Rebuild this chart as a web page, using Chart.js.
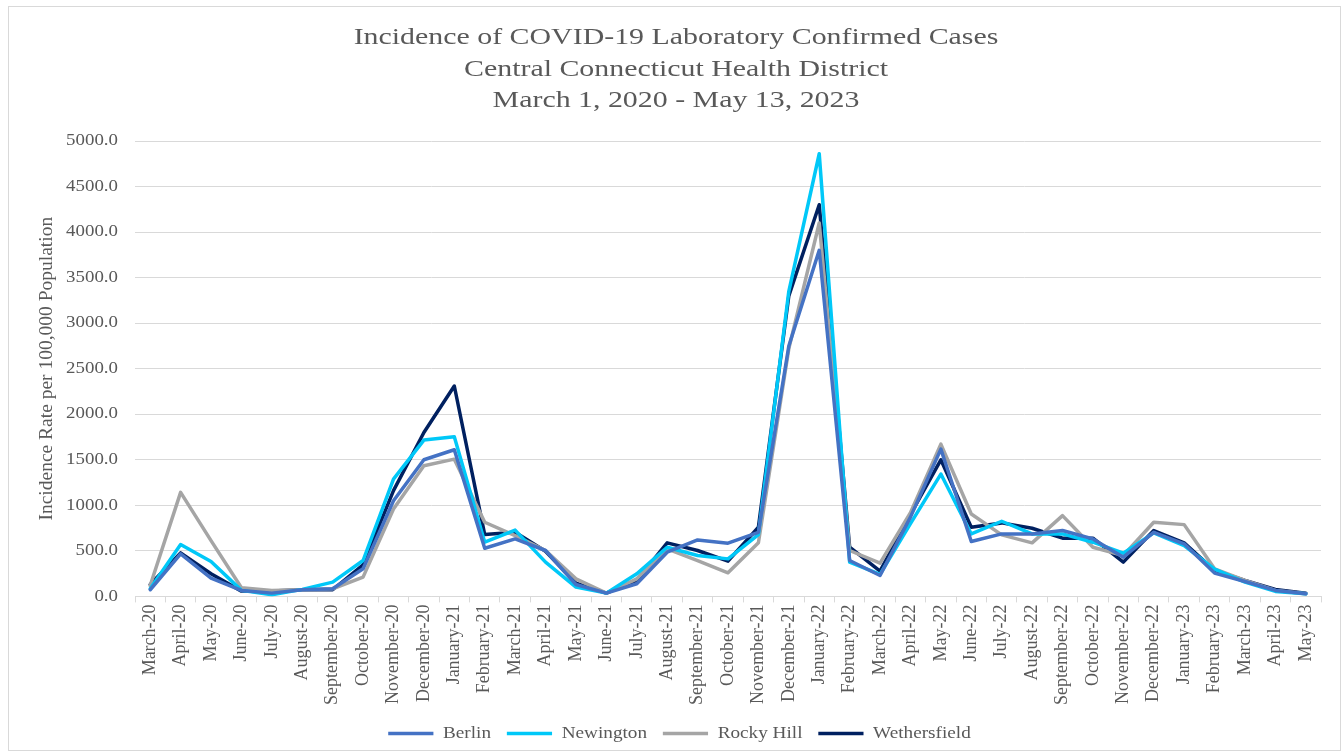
<!DOCTYPE html>
<html>
<head>
<meta charset="utf-8">
<script src="https://cdn.jsdelivr.net/npm/chart.js@4/dist/chart.umd.min.js"></script>
<style>
  html, body { margin: 0; padding: 0; background: #fff; }
  #wrap { position: relative; width: 1342px; height: 752px; }
</style>
</head>
<body>
<div id="wrap"><canvas id="c" width="1342" height="752"></canvas></div>
<script>
const months = ['March-20','April-20','May-20','June-20','July-20','August-20','September-20','October-20','November-20','December-20','January-21','February-21','March-21','April-21','May-21','June-21','July-21','August-21','September-21','October-21','November-21','December-21','January-22','February-22','March-22','April-22','May-22','June-22','July-22','August-22','September-22','October-22','November-22','December-22','January-23','February-23','March-23','April-23','May-23'];

const berlin = [73, 467, 200, 66, 36, 73, 84, 303, 1051, 1500, 1610, 529, 631, 504, 131, 36, 139, 485, 620, 584, 704, 2750, 3800, 394, 230, 870, 1617, 602, 686, 686, 723, 631, 431, 704, 577, 256, 164, 66, 29];
const newington = [84, 569, 383, 66, 18, 77, 157, 394, 1288, 1716, 1752, 595, 728, 376, 102, 36, 248, 540, 449, 412, 679, 3350, 4860, 376, 241, 800, 1343, 686, 825, 686, 686, 595, 474, 697, 558, 299, 157, 55, 29];
const rockyHill = [120, 1142, 613, 95, 66, 73, 84, 212, 960, 1434, 1507, 814, 668, 504, 193, 36, 193, 522, 394, 259, 588, 2720, 4100, 504, 365, 920, 1672, 905, 675, 588, 887, 540, 449, 814, 788, 303, 175, 66, 29];
const wethersfield = [131, 478, 248, 58, 58, 73, 73, 347, 1161, 1800, 2310, 679, 704, 496, 146, 36, 175, 588, 504, 387, 759, 3300, 4300, 540, 277, 900, 1500, 759, 807, 748, 639, 639, 376, 723, 588, 285, 175, 77, 36];

const seriesNames = ['Berlin', 'Newington', 'Rocky Hill', 'Wethersfield'];
const titleLines = ['Incidence of COVID-19 Laboratory Confirmed Cases', 'Central Connecticut Health District', 'March 1, 2020 - May 13, 2023'];
const yAxisTitle = 'Incidence Rate per 100,000 Population';

const colors = ['#4472C4', '#00C8F8', '#A5A5A5', '#002060'];
const serif = '"Liberation Serif", "Times New Roman", serif';
const textColor = '#595959';

const TITLE_SX = 1.245, TITLE_CX = 676;
const YTICK_SX = 1.18, YTICK_PAD = 17;
const LEGEND_SX = 1.13, LEGEND_CX = 679.5;

const borderPlugin = {
  id: 'outerBorder',
  beforeDraw(chart) {
    const ctx = chart.ctx;
    ctx.save();
    ctx.fillStyle = '#fff';
    ctx.fillRect(0, 0, chart.width, chart.height);
    ctx.strokeStyle = '#D9D9D9';
    ctx.lineWidth = 1;
    ctx.strokeRect(8.5, 6.5, chart.width - 10, chart.height - 8);
    ctx.restore();
  }
};

// horizontally widen the text to match the reference's wide glyphs
const stretchPlugin = {
  id: 'stretchText',
  beforeDraw(chart) {
    const ctx = chart.ctx;
    const tb = chart.titleBlock;
    if (tb && !tb._wrapped) {
      const orig = tb.draw.bind(tb);
      tb.draw = function () {
        const cx = (tb.left + tb.right) / 2;
        ctx.save();
        ctx.translate(TITLE_CX, 0); ctx.scale(TITLE_SX, 1); ctx.translate(-cx, 0);
        orig();
        ctx.restore();
      };
      tb._wrapped = true;
    }
    const lg = chart.legend;
    if (lg && !lg._wrapped) {
      const orig = lg.draw.bind(lg);
      lg.draw = function () {
        const hb = lg.legendHitBoxes;
        let cx = (lg.left + lg.right) / 2;
        if (hb && hb.length) {
          const last = hb[hb.length - 1];
          cx = (hb[0].left + last.left + last.width) / 2;
        }
        ctx.save();
        ctx.translate(LEGEND_CX, 0); ctx.scale(LEGEND_SX, 1); ctx.translate(-cx, 0);
        orig();
        ctx.restore();
      };
      lg._wrapped = true;
    }
    const ys = chart.scales.y;
    if (ys && !ys._wrapped) {
      const orig = ys.drawLabels.bind(ys);
      ys.drawLabels = function (area) {
        const ax = ys.right - YTICK_PAD;
        ctx.save();
        ctx.translate(ax, 0); ctx.scale(YTICK_SX, 1); ctx.translate(-ax, 0);
        orig(area);
        ctx.restore();
      };
      ys._wrapped = true;
    }
  }
};

const mk = (name, data, i) => ({
  label: name,
  data: data,
  borderColor: colors[i],
  backgroundColor: colors[i],
  borderWidth: 3.5,
  pointRadius: 0,
  pointHoverRadius: 0,
  tension: 0,
  fill: false,
  borderJoinStyle: 'round',
  borderCapStyle: 'round'
});

new Chart(document.getElementById('c'), {
  type: 'line',
  data: {
    labels: months,
    datasets: [
      mk(seriesNames[0], berlin, 0),
      mk(seriesNames[1], newington, 1),
      mk(seriesNames[2], rockyHill, 2),
      mk(seriesNames[3], wethersfield, 3)
    ]
  },
  options: {
    responsive: false,
    animation: false,
    devicePixelRatio: 1,
    layout: { padding: { left: 30, right: 21, top: 6, bottom: 0 } },
    plugins: {
      tooltip: { enabled: false },
      title: {
        display: true,
        text: titleLines,
        color: textColor,
        font: { family: serif, size: 24, weight: 'normal', lineHeight: 1.3125 },
        padding: { top: 16.25, bottom: 24.25 }
      },
      legend: {
        position: 'bottom',
        labels: {
          usePointStyle: true,
          pointStyle: 'line',
          pointStyleWidth: 40,
          boxHeight: 4,
          color: textColor,
          font: { family: serif, size: 17 },
          padding: 14
        }
      }
    },
    scales: {
      x: {
        offset: true,
        afterFit(scale) { scale.height = 114.6; },
        grid: { display: true, drawOnChartArea: false, drawTicks: true, tickLength: 6, offset: true, color: '#D9D9D9' },
        border: { display: true, color: '#D9D9D9', width: 1 },
        ticks: {
          autoSkip: false,
          maxRotation: 90,
          minRotation: 90,
          color: textColor,
          font: { family: serif, size: 18 },
          padding: 2
        }
      },
      y: {
        min: 0,
        max: 5000,
        afterFit(scale) { scale.width = 105; },
        grid: { color: '#D9D9D9', drawTicks: false },
        border: { display: false },
        ticks: {
          stepSize: 500,
          color: textColor,
          font: { family: serif, size: 16 },
          padding: YTICK_PAD,
          callback: v => Number(v).toFixed(1)
        },
        title: {
          display: true,
          text: yAxisTitle,
          color: textColor,
          font: { family: serif, size: 19.5 },
          padding: { top: 5.3, bottom: 0 }
        }
      }
    }
  },
  plugins: [borderPlugin, stretchPlugin]
});
</script>
</body>
</html>
